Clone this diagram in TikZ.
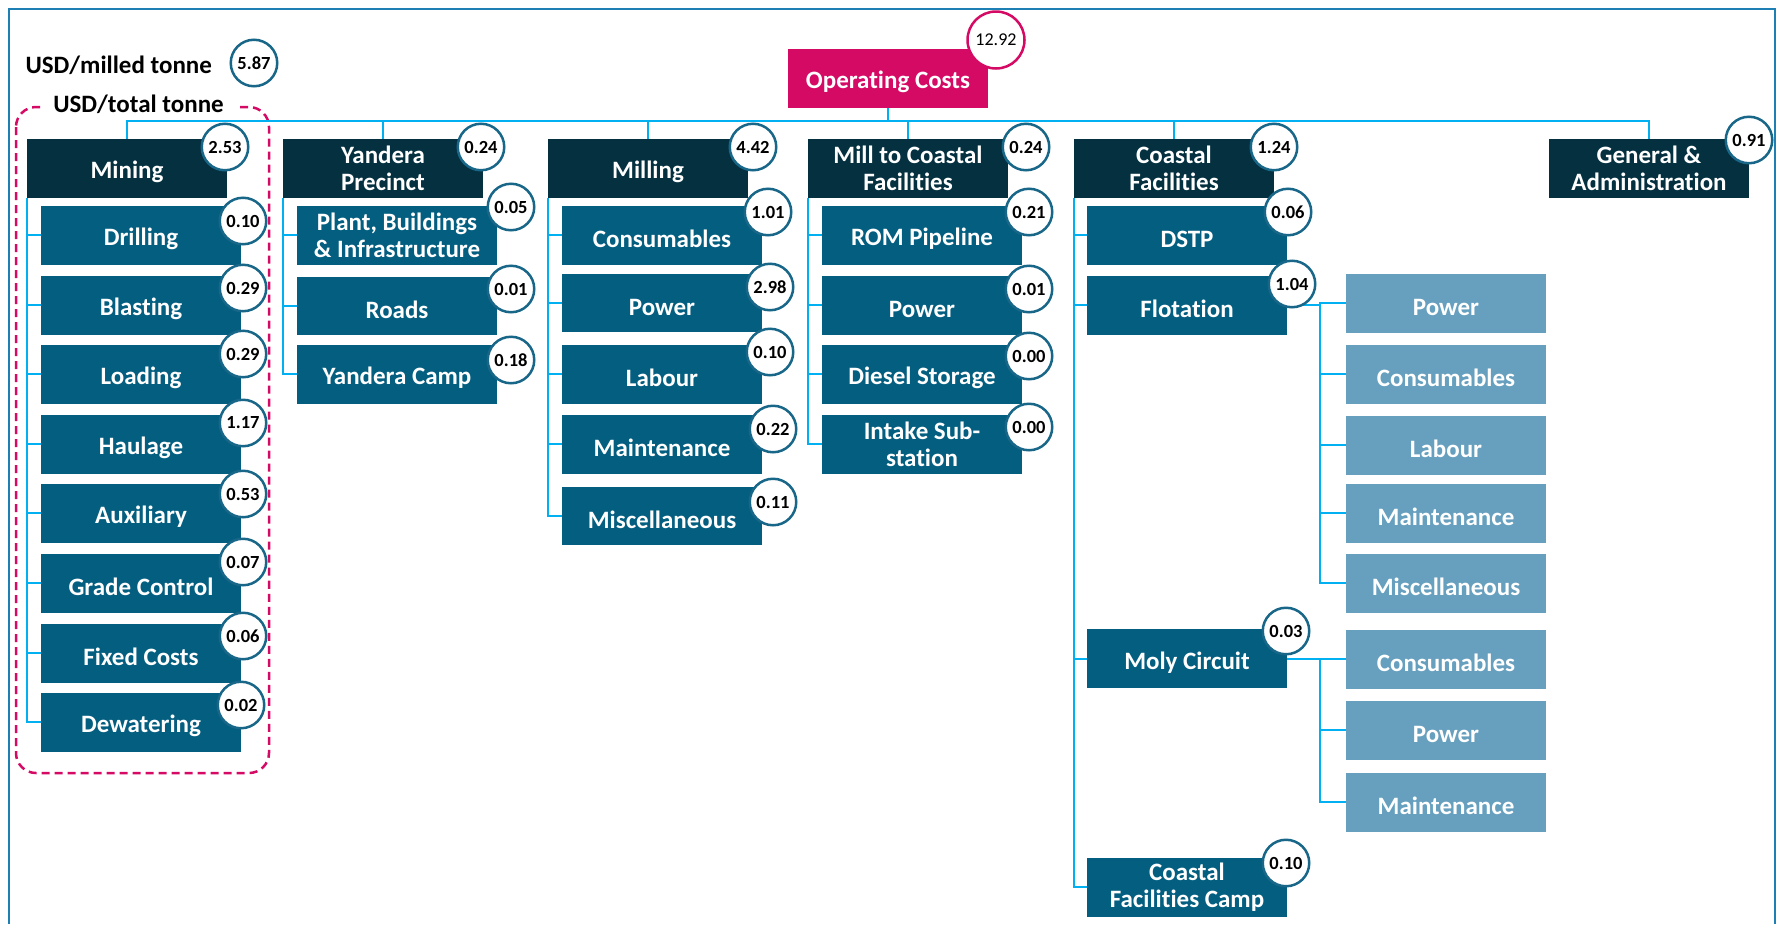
\documentclass[tikz,border=0pt]{standalone}
\usepackage{fontspec}
\setmainfont{Carlito}[Ligatures=NoCommon]
\definecolor{costnavy}{RGB}{4,48,64}
\definecolor{costblue}{RGB}{4,94,128}
\definecolor{costlight}{RGB}{103,160,190}
\definecolor{costpink}{RGB}{213,10,101}
\definecolor{linkcyan}{RGB}{0,176,240}
\definecolor{ringblue}{RGB}{24,102,136}
\definecolor{frameblue}{RGB}{30,127,180}
\tikzset{
  head/.style={fill=costnavy, text=white, font=\bfseries\fontsize{25}{27}\selectfont,
    minimum width=200pt, minimum height=59pt, inner sep=0pt, align=center,
    execute at begin node={\rule{0pt}{25pt}}},
  item/.style={head, fill=costblue, minimum height=58.5pt},
  sub/.style={head, fill=costlight, minimum height=58.5pt},
  val/.style={circle, draw=ringblue, line width=2.5pt, fill=white, minimum size=46.5pt,
    inner sep=0pt, text=black, font=\bfseries\fontsize{18.5}{20}\selectfont},
  link/.style={draw=linkcyan, line width=2pt}
}

\begin{document}
\begin{tikzpicture}[x=1pt,y=-1pt]
  \useasboundingbox (0,0) rectangle (1780,924);
  \draw[frameblue,line width=2.5pt] (9,924) -- (9,9) -- (1775,9) -- (1775,924);

  \node[anchor=west,font=\bfseries\fontsize{25}{27}\selectfont] (milled) at (22,65) {USD/milled tonne};
  \draw[costpink,line width=2.5pt,dash pattern=on 8pt off 5pt,rounded corners=20pt] (16,107) rectangle (269,773);
  \node[fill=white,inner xsep=12pt,font=\bfseries\fontsize{25}{27}\selectfont] (total) at (138.5,104) {USD/total tonne};

  \node[head,fill=costpink] (opc) at (888,78.5) {Operating Costs};

  \node[head] (mining) at (127,168.5) {Mining};
  \node[head] (yandera) at (383,168.5) {Yandera\\Precinct};
  \node[head] (milling) at (648,168.5) {Milling};
  \node[head] (mtc) at (908,168.5) {Mill to Coastal\\Facilities};
  \node[head] (coastal) at (1174,168.5) {Coastal\\Facilities};
  \node[head] (genadmin) at (1649,168.5) {General \&\\Administration};

  \foreach \n/\y/\t in {drill/235.3/Drilling, blast/305.3/Blasting, load/374.3/Loading,
      haul/444.3/Haulage, aux/513.3/Auxiliary, grade/583.3/Grade Control,
      fixed/653.3/Fixed Costs, dewater/722.3/Dewatering}
    \node[item] (\n) at (141,\y) {\t};

  \node[item] (plant) at (397,235.3) {Plant, Buildings\\\& Infrastructure};
  \node[item] (roads) at (397,306) {Roads};
  \node[item] (ycamp) at (397,374.3) {Yandera Camp};

  \foreach \n/\y/\t in {mcons/235.3/Consumables, mpow/303/Power, mlab/374.3/Labour,
      mmaint/444.3/Maintenance, mmisc/516/Miscellaneous}
    \node[item] (\n) at (662,\y) {\t};

  \node[item] (rom) at (922,235.3) {ROM Pipeline};
  \node[item] (tpow) at (922,305.3) {Power};
  \node[item] (diesel) at (922,374.3) {Diesel Storage};
  \node[item] (intake) at (922,444.3) {Intake Sub-\\station};

  \node[item] (dstp) at (1187,235.3) {DSTP};
  \node[item] (flot) at (1187,305.3) {Flotation};
  \node[item] (moly) at (1187,658.5) {Moly Circuit};
  \node[item] (ccamp) at (1187,887.3) {Coastal\\Facilities Camp};

  \foreach \n/\y/\t in {fpow/303.3/Power, fcons/374.3/Consumables, flab/445.3/Labour,
      fmaint/513.3/Maintenance, fmisc/583.3/Miscellaneous}
    \node[sub] (\n) at (1446,\y) {\t};
  \foreach \n/\y/\t in {ocons/659.3/Consumables, opow/730.3/Power, omaint/802.3/Maintenance}
    \node[sub] (\n) at (1446,\y) {\t};

  \coordinate (bus) at (888,121);
  \draw[link] (opc.south) -- (bus);
  \foreach \n in {mining,yandera,milling,mtc,coastal,genadmin}
    \draw[link] (\n.north) |- (bus);
  \foreach \n in {drill,blast,load,haul,aux,grade,fixed,dewater}
    \draw[link] (mining.south west) |- (\n.west);
  \foreach \n in {plant,roads,ycamp}
    \draw[link] (yandera.south west) |- (\n.west);
  \foreach \n in {mcons,mpow,mlab,mmaint,mmisc}
    \draw[link] (milling.south west) |- (\n.west);
  \foreach \n in {rom,tpow,diesel,intake}
    \draw[link] (mtc.south west) |- (\n.west);
  \foreach \n in {dstp,flot,moly,ccamp}
    \draw[link] (coastal.south west) |- (\n.west);
  \foreach \n in {fpow,fcons,flab,fmaint,fmisc}
    \draw[link] (flot.east) -| ([xshift=-26pt]\n.west) -- (\n.west);
  \foreach \n in {ocons,opow,omaint}
    \draw[link] (moly.east) -| ([xshift=-26pt]\n.west) -- (\n.west);

  \node[val,draw=costpink,minimum size=57pt,font=\fontsize{18}{20}\selectfont] (vopc) at (996,40) {12.92};
  \node[val] (vmilled) at (254,63) {5.87};
  \foreach \n/\x/\y/\v in {mining/225/147/2.53, yandera/481/147/0.24, milling/753/147/4.42,
      mtc/1026/147/0.24, coastal/1274/147/1.24, genadmin/1749/140/0.91,
      drill/243/221/0.10, blast/243/288/0.29, load/243/354/0.29, haul/243/423/1.17,
      aux/243/494/0.53, grade/243/562/0.07, fixed/243/636/0.06, dewater/241/705/0.02,
      plant/511/207/0.05, roads/511/289/0.01, ycamp/511/360/0.18,
      mcons/768/212/1.01, mpow/770/287/2.98, mlab/770/352/0.10, mmaint/773/429/0.22, mmisc/773/502/0.11,
      rom/1029/212/0.21, tpow/1029/289/0.01, diesel/1029/356/0.00, intake/1029/427/0.00,
      dstp/1288/212/0.06, flot/1292/284/1.04, moly/1286/631/0.03, ccamp/1286/863/0.10}
    \node[val] (v\n) at (\x,\y) {\v};
\end{tikzpicture}
\end{document}
